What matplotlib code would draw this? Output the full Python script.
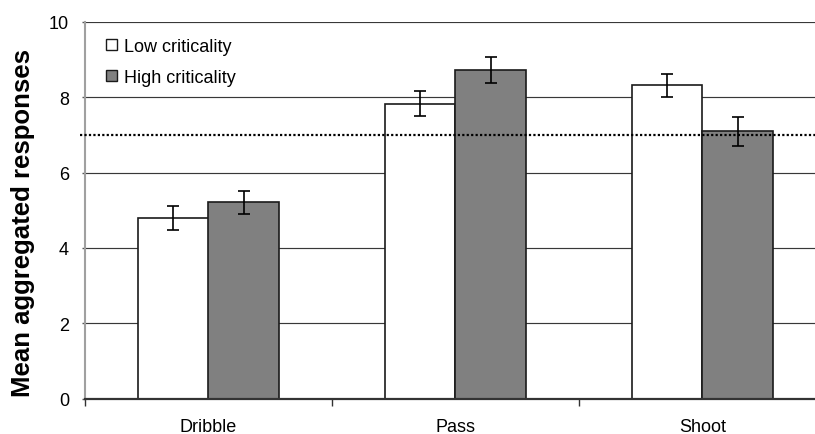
import numpy as np
import matplotlib
matplotlib.use('Agg')
import matplotlib.pyplot as plt

plt.rcParams['font.family'] = ['Liberation Sans', 'DejaVu Sans']

IMAGE = 'out.png'

# Data
categories = ['Dribble', 'Pass', 'Shoot']
low_values = [4.79, 7.83, 8.31]
high_values = [5.21, 8.72, 7.09]
low_errors = [0.31, 0.33, 0.31]
high_errors = [0.31, 0.35, 0.39]
threshold = 7.0
y_ticks = [0, 2, 4, 6, 8, 10]


def main():
    fig = plt.figure(figsize=(8.15, 4.35), dpi=100)
    # right edge of the plot area runs past the picture, as in the reference
    ax = fig.add_axes([85 / 815, 35.3 / 435, 741 / 815, 377 / 435])

    x = np.arange(len(categories))
    width = 0.286

    ax.bar(x - width / 2, low_values, width, color='white', edgecolor='#1a1a1a',
           linewidth=1.2, label='Low criticality', zorder=2)
    ax.bar(x + width / 2, high_values, width, color='#808080', edgecolor='#1a1a1a',
           linewidth=1.2, label='High criticality', zorder=2)
    ax.errorbar(x - width / 2, low_values, yerr=low_errors, fmt='none',
                ecolor='black', elinewidth=1.2, capsize=4.5, capthick=1.2, zorder=3)
    ax.errorbar(x + width / 2, high_values, yerr=high_errors, fmt='none',
                ecolor='black', elinewidth=1.2, capsize=4.5, capthick=1.2, zorder=3)

    ax.axhline(threshold, xmin=-0.007, xmax=1, color='black', linewidth=1.6,
               linestyle=(0, (1, 1)), clip_on=False, zorder=4)

    ax.set_xlim(-0.5, 2.5)
    ax.set_ylim(0, 10)
    ax.set_yticks(y_ticks)
    ax.yaxis.grid(True, color='#383838', linewidth=0.85)
    ax.set_axisbelow(True)

    # category labels at the centres, tick marks at the boundaries
    ax.set_xticks(x)
    ax.set_xticklabels(categories)
    ax.set_xticks([-0.5, 0.5, 1.5], minor=True)
    ax.tick_params(axis='x', which='major', length=0, pad=14, labelsize=13)
    ax.tick_params(axis='x', which='minor', length=5, width=1, color='#333333',
                   direction='out')
    ax.tick_params(axis='y', length=2.5, width=1, color='#555555', pad=9,
                   labelsize=13)

    for side in ['top', 'right']:
        ax.spines[side].set_visible(False)
    ax.spines['left'].set_color('#a0a0a0')
    ax.spines['left'].set_linewidth(1.5)
    ax.spines['bottom'].set_color('#333333')
    ax.spines['bottom'].set_linewidth(1.6)

    ax.set_ylabel('Mean aggregated responses', fontsize=18.5, fontweight='bold')
    ax.yaxis.set_label_coords(-0.068, 0.47)

    leg = ax.legend(loc='upper left', bbox_to_anchor=(0.028, 0.957), frameon=False,
                    fontsize=13, handlelength=0.6, handleheight=0.6,
                    handletextpad=0.4, labelspacing=0.77, borderpad=0,
                    borderaxespad=0)
    for handle in leg.legend_handles:
        handle.set_linewidth(1.0)

    plt.savefig(IMAGE)
    plt.close()


if __name__ == '__main__':
    main()
